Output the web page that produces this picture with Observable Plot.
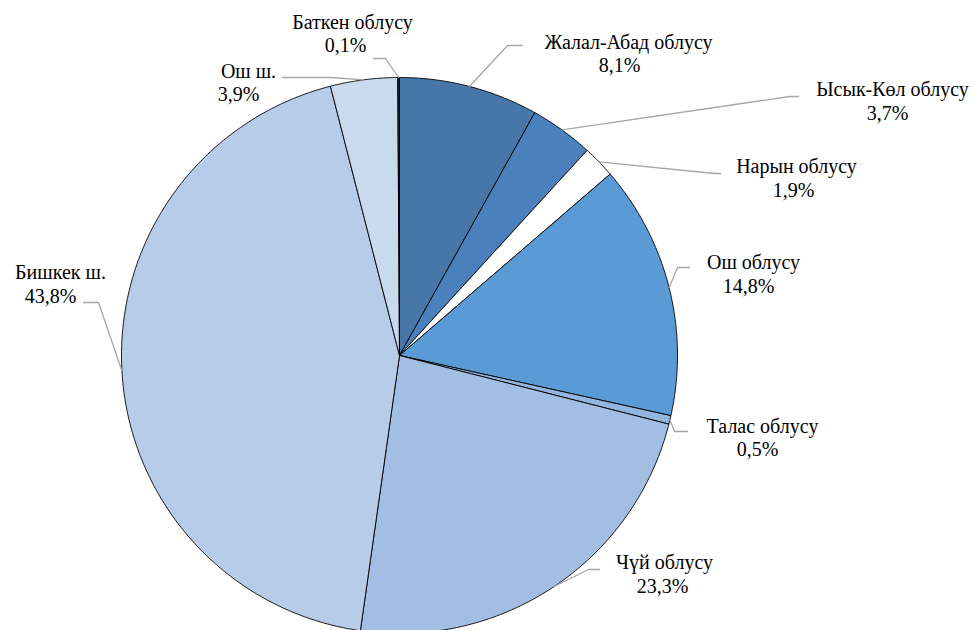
<!DOCTYPE html>
<html><head><meta charset="utf-8">
<script src="https://cdn.jsdelivr.net/npm/d3@7"></script>
<script src="https://cdn.jsdelivr.net/npm/@observablehq/plot@0.6"></script>
<style>html,body{margin:0;padding:0;background:#fff}</style>
</head><body><div id="chart"></div>
<script>
// ---- data ----
const regions = ["Жалал-Абад облусу","Ысык-Көл облусу","Нарын облусу","Ош облусу","Талас облусу","Чүй облусу","Бишкек ш.","Ош ш.","Баткен облусу"];
const shares = [8.1, 3.7, 1.9, 14.8, 0.5, 23.3, 43.8, 3.9, 0.1];
const shareLabels = ["8,1%","3,7%","1,9%","14,8%","0,5%","23,3%","43,8%","3,9%","0,1%"];
const sliceColors = ["#4677a8","#4a81bd","#ffffff","#5b9bd5","#93b6e0","#a3bee3","#b7cce8","#c9d9ee","#1a2a3a"];

// ---- layout (pixels of the 973x630 frame) ----
const W = 973, H = 630, CX = 399, CY = 355, R = 278;
// leader elbow, leader end, name centre, value centre
const labelLayout = [
  {ex:507, ey:45,  tx:522, ty:45,  nx:628, ny:42,  vx:619, vy:65},
  {ex:789, ey:96,  tx:798, ty:96,  nx:892, ny:89,  vx:887, vy:113},
  {ex:714, ey:173, tx:720, ty:173, nx:796, ny:166, vx:793, vy:190},
  {ex:677, ey:267, tx:689, ty:267, nx:753, ny:262, vx:748, vy:286},
  {ex:674, ey:431, tx:687, ty:431, nx:762, ny:426, vx:757, vy:449},
  {ex:588, ey:569, tx:599, ty:569, nx:664, ny:562, vx:662, vy:586},
  {ex:98,  ey:302, tx:83,  ty:302, nx:60,  ny:272, vx:50,  vy:296},
  {ex:330, ey:77,  tx:282, ty:77,  nx:248, ny:71,  vx:238, vy:94},
  {ex:385, ey:58,  tx:373, ty:58,  nx:352, ny:22,  vx:345, vy:45}
];
const ux = px => (px - CX) / R;
const uy = py => (CY - py) / R;

const font = "Liberation Serif, DejaVu Serif, Times New Roman, serif";

// ---- geometry from the data ----
const arcs = d3.pie().sort(null).value(d => d)(shares);
const slicePts = [];
arcs.forEach((a, i) => {
  const name = regions[i], color = sliceColors[i];
  slicePts.push({name, color, x: 0, y: 0});
  const n = Math.max(2, Math.ceil((a.endAngle - a.startAngle) / (Math.PI / 360)));
  for (let k = 0; k <= n; k++) {
    const t = a.startAngle + (a.endAngle - a.startAngle) * k / n;
    slicePts.push({name, color, x: Math.sin(t), y: Math.cos(t)});
  }
  slicePts.push({name, color, x: 0, y: 0});
});

const leaderPts = [];
const labels = [];
arcs.forEach((a, i) => {
  const m = (a.startAngle + a.endAngle) / 2, L = labelLayout[i];
  leaderPts.push({name: regions[i], x: Math.sin(m), y: Math.cos(m)});
  leaderPts.push({name: regions[i], x: ux(L.ex), y: uy(L.ey)});
  leaderPts.push({name: regions[i], x: ux(L.tx), y: uy(L.ty)});
  labels.push({name: regions[i], value: shareLabels[i], nx: ux(L.nx), ny: uy(L.ny), vx: ux(L.vx), vy: uy(L.vy)});
});

const chart = Plot.plot({
  width: W, height: H,
  marginTop: 0, marginRight: 0, marginBottom: 0, marginLeft: 0,
  x: {domain: [ux(0), ux(W)], range: [0, W], axis: null},
  y: {domain: [uy(H), uy(0)], range: [H, 0], axis: null},
  color: {type: "identity"},
  style: {background: "#fff", overflow: "hidden", fontFamily: font},
  marks: [
    Plot.line(slicePts, {x: "x", y: "y", z: "name", fill: "color", stroke: "#000", strokeWidth: 0.9, strokeLinejoin: "round"}),
    Plot.line(leaderPts, {x: "x", y: "y", z: "name", stroke: "#a6a6a6", strokeWidth: 1.3}),
    Plot.text(labels, {x: "nx", y: "ny", text: "name", fontSize: 20, fontFamily: font, fill: "#000"}),
    Plot.text(labels, {x: "vx", y: "vy", text: "value", fontSize: 20, fontFamily: font, fill: "#000"})
  ]
});
document.getElementById("chart").appendChild(chart);
</script>
</body></html>
